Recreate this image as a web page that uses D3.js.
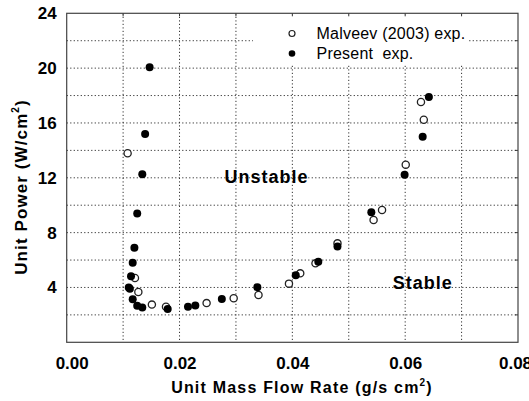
<!DOCTYPE html>
<html>
<head>
<meta charset="utf-8">
<script src="https://cdn.jsdelivr.net/npm/d3@7"></script>
<style>
  body { margin: 0; background: #fff; }
  svg { display: block; font-family: "Liberation Sans", Arial, sans-serif; }
</style>
</head>
<body>
<svg id="chart" width="529" height="401"></svg>
<script>
// tick labels
var xTicks = [0, 0.02, 0.04, 0.06, 0.08];
var yTicks = [4, 8, 12, 16, 20, 24];
var xGrid = [0.01, 0.02, 0.03, 0.04, 0.05, 0.06, 0.07];
var yGrid = [2, 4, 6, 8, 10, 12, 14, 16, 18, 20, 22];

// Malveev (2003) exp. - open circles
var matveevX = [0.0108, 0.0121, 0.0127, 0.0151, 0.0176, 0.0248, 0.0296, 0.0340, 0.0394, 0.0414, 0.0441, 0.0480, 0.0544, 0.0559, 0.0601, 0.0628, 0.0633];
var matveevY = [13.79, 4.69, 3.67, 2.75, 2.60, 2.86, 3.21, 3.45, 4.28, 5.03, 5.76, 7.22, 8.92, 9.65, 12.96, 17.53, 16.24];

// Present exp. - filled circles
var presentX = [0.0147, 0.0139, 0.0134, 0.0125, 0.0120, 0.0117, 0.0114, 0.0110, 0.0112, 0.0117, 0.0125, 0.0134, 0.0179, 0.0215, 0.0228, 0.0275, 0.0338, 0.0406, 0.0446, 0.0480, 0.0540, 0.0599, 0.0631, 0.0642];
var presentY = [20.06, 15.20, 12.25, 9.40, 6.90, 5.80, 4.82, 4.00, 3.90, 3.14, 2.67, 2.53, 2.43, 2.60, 2.68, 3.16, 4.02, 4.90, 5.88, 6.98, 9.48, 12.23, 15.00, 17.90];

var plotLeft = 66.7, plotRight = 518, plotTop = 13.3, plotBottom = 342.3;

var svg = d3.select("#chart");
var x = d3.scaleLinear().domain([0, 0.08]).range([plotLeft, plotRight]);
var y = d3.scaleLinear().domain([0, 24]).range([plotBottom, plotTop]);

// dotted grid
svg.append("g").selectAll("line").data(xGrid).enter()
    .append("line")
    .attr("x1", function(d) { return x(d) }).attr("x2", function(d) { return x(d) })
    .attr("y1", plotTop).attr("y2", plotBottom)
    .attr("stroke", "#333").attr("stroke-width", 1)
    .attr("stroke-dasharray", "1.2,2.3");
svg.append("g").selectAll("line").data(yGrid).enter()
    .append("line")
    .attr("x1", plotLeft).attr("x2", plotRight)
    .attr("y1", function(d) { return y(d) }).attr("y2", function(d) { return y(d) })
    .attr("stroke", "#333").attr("stroke-width", 1)
    .attr("stroke-dasharray", "1.2,2.3");

// legend background hides grid
svg.append("rect").attr("x", 253).attr("y", plotTop + 1).attr("width", 216).attr("height", 50)
    .attr("fill", "#fff");

// inner ticks on top and right
var tickLen = 3;
svg.append("g").selectAll("line").data(xGrid).enter().append("line")
    .attr("x1", function(d) { return x(d) }).attr("x2", function(d) { return x(d) })
    .attr("y1", plotTop).attr("y2", plotTop + tickLen).attr("stroke", "#333");
svg.append("g").selectAll("line").data(yGrid).enter().append("line")
    .attr("x1", plotRight - tickLen).attr("x2", plotRight)
    .attr("y1", function(d) { return y(d) }).attr("y2", function(d) { return y(d) })
    .attr("stroke", "#333");

// frame
svg.append("rect").attr("x", plotLeft).attr("y", plotTop)
    .attr("width", plotRight - plotLeft).attr("height", plotBottom - plotTop)
    .attr("fill", "none").attr("stroke", "#444").attr("stroke-width", 1.2);

// tick labels through d3 axes
var xAxis = svg.append("g").attr("transform", "translate(0," + plotBottom + ")")
    .call(d3.axisBottom(x).tickValues(xTicks).tickFormat(d3.format(".2f")).tickSize(0).tickPadding(15));
var yAxis = svg.append("g").attr("transform", "translate(" + plotLeft + ",0)")
    .call(d3.axisLeft(y).tickValues(yTicks).tickFormat(d3.format("d")).tickSize(0).tickPadding(10));
[xAxis, yAxis].forEach(function(a) {
    a.select(".domain").remove();
    a.selectAll("text").attr("font-size", 17).attr("font-weight", "bold")
        .attr("fill", "#000").attr("font-family", "Liberation Sans, Arial, sans-serif");
});
// end labels sit a little inward in the original
xAxis.selectAll("text").attr("dx", function(d) { return d === 0 ? 5 : (d === 0.08 ? -3 : 0) });

// axis titles
var xt = svg.append("text").attr("x", 302).attr("y", 393)
    .attr("text-anchor", "middle").attr("font-size", 16).attr("font-weight", "bold")
    .attr("letter-spacing", 1.2);
xt.append("tspan").text("Unit Mass Flow Rate (g/s cm");
xt.append("tspan").attr("font-size", 10).attr("dy", -7).text("2");
xt.append("tspan").attr("dy", 7).text(")");

var yt = svg.append("text").attr("transform", "translate(26.7,187) rotate(-90)")
    .attr("text-anchor", "middle").attr("font-size", 17).attr("font-weight", "bold")
    .attr("letter-spacing", 1.1);
yt.append("tspan").text("Unit Power (W/cm");
yt.append("tspan").attr("font-size", 10).attr("dy", -8).text("2");
yt.append("tspan").attr("dy", 8).text(")");

// region labels
svg.append("text").attr("x", 224.4).attr("y", 182.6).attr("font-size", 18)
    .attr("font-weight", "bold").attr("letter-spacing", 1).text("Unstable");
svg.append("text").attr("x", 392.7).attr("y", 289.3).attr("font-size", 18)
    .attr("font-weight", "bold").attr("letter-spacing", 1).text("Stable");

// data points
var matveev = matveevX.map(function(v, i) { return {x: v, y: matveevY[i]} });
var present = presentX.map(function(v, i) { return {x: v, y: presentY[i]} });

svg.append("g").selectAll("circle").data(matveev).enter()
    .append("circle")
    .attr("cx", function(d) { return x(d.x) })
    .attr("cy", function(d) { return y(d.y) })
    .attr("r", 3.6)
    .attr("fill", "#fff").attr("stroke", "#222").attr("stroke-width", 1.3);

svg.append("g").selectAll("circle").data(present).enter()
    .append("circle")
    .attr("cx", function(d) { return x(d.x) })
    .attr("cy", function(d) { return y(d.y) })
    .attr("r", 4)
    .attr("fill", "#000");

// legend
svg.append("circle").attr("cx", 292).attr("cy", 33.5).attr("r", 3)
    .attr("fill", "#fff").attr("stroke", "#222").attr("stroke-width", 1.2);
svg.append("circle").attr("cx", 292).attr("cy", 53.5).attr("r", 3.3).attr("fill", "#000");
svg.append("text").attr("x", 316.6).attr("y", 39.2).attr("font-size", 16)
    .attr("letter-spacing", 0.2).text("Malveev (2003) exp.");
svg.append("text").attr("x", 316.6).attr("y", 59.2).attr("font-size", 16)
    .attr("letter-spacing", 0.2).style("white-space", "pre").text("Present  exp.");
</script>
</body>
</html>
